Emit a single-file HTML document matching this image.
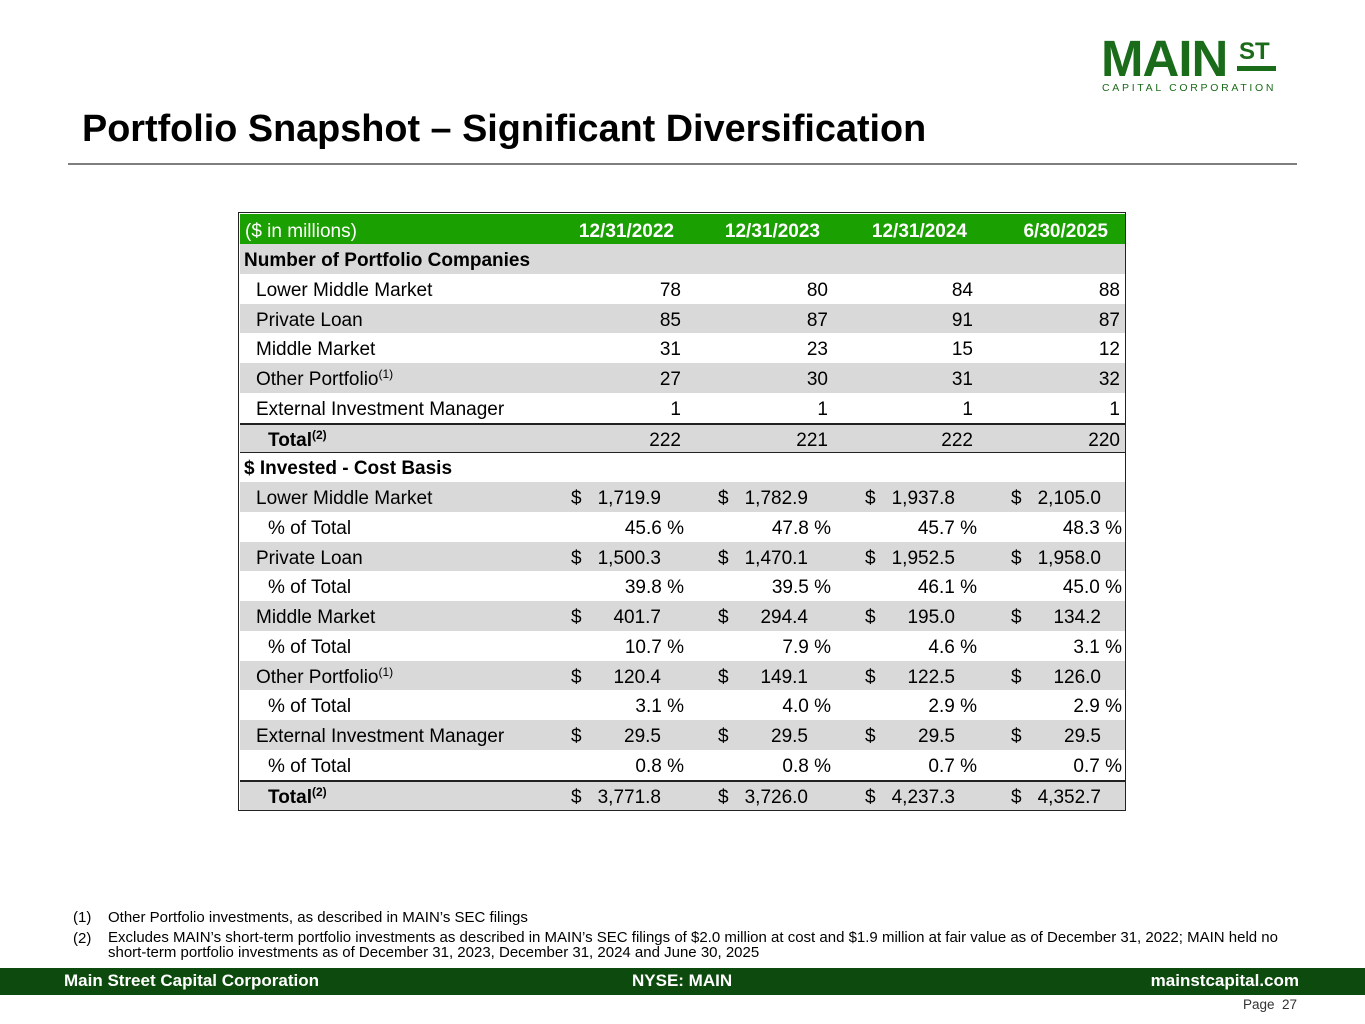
<!DOCTYPE html>
<html><head><meta charset="utf-8"><style>
body{margin:0;width:1365px;height:1024px;position:relative;background:#fff;font-family:"Liberation Sans",Arial,sans-serif;color:#000;overflow:hidden}
.a{position:absolute;white-space:nowrap}
.r{position:absolute;left:240px;width:885px;height:29.75px;font-size:19px;line-height:29.75px}
.g{background:#d9d9d9}
.r span{position:absolute;top:2px}
.lb{left:16px}
.sb{left:4px;font-weight:bold}
.tb{left:28px;font-weight:bold}
.pc{left:28px}
sup{font-size:12px;line-height:0;vertical-align:7px}
</style></head><body>
<div class="a" style="left:1101px;top:33px;font-size:51px;font-weight:bold;color:#1a6b1a;line-height:52px;letter-spacing:-1px">MAIN</div>
<div class="a" style="left:1239px;top:40px;font-size:24px;font-weight:bold;color:#1a6b1a;line-height:24px">ST</div>
<div class="a" style="left:1237px;top:66px;width:39px;height:5px;background:#1a6b1a"></div>
<div class="a" style="left:1102px;top:82px;font-size:10.5px;color:#1a6b1a;letter-spacing:2.7px">CAPITAL CORPORATION</div>
<div class="a" style="left:82px;top:108px;font-size:37.8px;font-weight:bold;line-height:42px">Portfolio Snapshot – Significant Diversification</div>
<div class="a" style="left:68px;top:163px;width:1229px;height:2px;background:#7f7f7f"></div>

<div class="a" style="left:238px;top:212px;width:888px;height:599px;border:1px solid #222;box-sizing:border-box"></div>
<div class="r" style="top:214px;background:#1aa000;color:#fff;height:30px;line-height:31px"><span style="left:5px">($ in millions)</span>
<span style="right:451px;font-weight:bold">12/31/2022</span><span style="right:305px;font-weight:bold">12/31/2023</span><span style="right:158px;font-weight:bold">12/31/2024</span><span style="right:17px;font-weight:bold">6/30/2025</span></div>

<div class="r g" style="top:244px"><span class="sb">Number of Portfolio Companies</span></div>
<div class="r" style="top:273.75px"><span class="lb">Lower Middle Market</span><span style="right:444px">78</span><span style="right:297px">80</span><span style="right:152px">84</span><span style="right:5px">88</span></div>
<div class="r g" style="top:303.5px"><span class="lb">Private Loan</span><span style="right:444px">85</span><span style="right:297px">87</span><span style="right:152px">91</span><span style="right:5px">87</span></div>
<div class="r" style="top:333.25px"><span class="lb">Middle Market</span><span style="right:444px">31</span><span style="right:297px">23</span><span style="right:152px">15</span><span style="right:5px">12</span></div>
<div class="r g" style="top:363px"><span class="lb">Other Portfolio<sup>(1)</sup></span><span style="right:444px">27</span><span style="right:297px">30</span><span style="right:152px">31</span><span style="right:5px">32</span></div>
<div class="r" style="top:392.75px"><span class="lb">External Investment Manager</span><span style="right:444px">1</span><span style="right:297px">1</span><span style="right:152px">1</span><span style="right:5px">1</span></div>
<div class="r g" style="top:422.5px;border-top:2px solid #222;box-sizing:border-box;line-height:28px"><span class="tb">Total<sup>(2)</sup></span><span style="right:444px">222</span><span style="right:297px">221</span><span style="right:152px">222</span><span style="right:5px">220</span></div>
<div class="r" style="top:452.25px;border-top:1px solid #222;box-sizing:border-box;line-height:28px"><span class="sb">$ Invested - Cost Basis</span></div>

<div class="r g" style="top:482px"><span class="lb">Lower Middle Market</span><span style="left:331px">$</span><span style="right:464px">1,719.9</span><span style="left:478px">$</span><span style="right:317px">1,782.9</span><span style="left:625px">$</span><span style="right:170px">1,937.8</span><span style="left:771px">$</span><span style="right:24px">2,105.0</span></div>
<div class="r" style="top:511.75px"><span class="pc">% of Total</span><span style="right:441px">45.6 %</span><span style="right:294px">47.8 %</span><span style="right:148px">45.7 %</span><span style="right:3px">48.3 %</span></div>
<div class="r g" style="top:541.5px"><span class="lb">Private Loan</span><span style="left:331px">$</span><span style="right:464px">1,500.3</span><span style="left:478px">$</span><span style="right:317px">1,470.1</span><span style="left:625px">$</span><span style="right:170px">1,952.5</span><span style="left:771px">$</span><span style="right:24px">1,958.0</span></div>
<div class="r" style="top:571.25px"><span class="pc">% of Total</span><span style="right:441px">39.8 %</span><span style="right:294px">39.5 %</span><span style="right:148px">46.1 %</span><span style="right:3px">45.0 %</span></div>
<div class="r g" style="top:601px"><span class="lb">Middle Market</span><span style="left:331px">$</span><span style="right:464px">401.7</span><span style="left:478px">$</span><span style="right:317px">294.4</span><span style="left:625px">$</span><span style="right:170px">195.0</span><span style="left:771px">$</span><span style="right:24px">134.2</span></div>
<div class="r" style="top:630.75px"><span class="pc">% of Total</span><span style="right:441px">10.7 %</span><span style="right:294px">7.9 %</span><span style="right:148px">4.6 %</span><span style="right:3px">3.1 %</span></div>
<div class="r g" style="top:660.5px"><span class="lb">Other Portfolio<sup>(1)</sup></span><span style="left:331px">$</span><span style="right:464px">120.4</span><span style="left:478px">$</span><span style="right:317px">149.1</span><span style="left:625px">$</span><span style="right:170px">122.5</span><span style="left:771px">$</span><span style="right:24px">126.0</span></div>
<div class="r" style="top:690.25px"><span class="pc">% of Total</span><span style="right:441px">3.1 %</span><span style="right:294px">4.0 %</span><span style="right:148px">2.9 %</span><span style="right:3px">2.9 %</span></div>
<div class="r g" style="top:720px"><span class="lb">External Investment Manager</span><span style="left:331px">$</span><span style="right:464px">29.5</span><span style="left:478px">$</span><span style="right:317px">29.5</span><span style="left:625px">$</span><span style="right:170px">29.5</span><span style="left:771px">$</span><span style="right:24px">29.5</span></div>
<div class="r" style="top:749.75px"><span class="pc">% of Total</span><span style="right:441px">0.8 %</span><span style="right:294px">0.8 %</span><span style="right:148px">0.7 %</span><span style="right:3px">0.7 %</span></div>
<div class="r g" style="top:779.5px;border-top:2px solid #222;box-sizing:border-box;line-height:28px;height:30px"><span class="tb">Total<sup>(2)</sup></span><span style="left:331px">$</span><span style="right:464px">3,771.8</span><span style="left:478px">$</span><span style="right:317px">3,726.0</span><span style="left:625px">$</span><span style="right:170px">4,237.3</span><span style="left:771px">$</span><span style="right:24px">4,352.7</span></div>

<div class="a" style="left:73px;top:909px;font-size:15px">(1)</div>
<div class="a" style="left:108px;top:909px;font-size:15px">Other Portfolio investments, as described in MAIN’s SEC filings</div>
<div class="a" style="left:73px;top:930px;font-size:15px">(2)</div>
<div class="a" style="left:108px;top:930px;font-size:15px;line-height:15px">Excludes MAIN’s short-term portfolio investments as described in MAIN’s SEC filings of $2.0 million at cost and $1.9 million at fair value as of December 31, 2022; MAIN held no<br>short-term portfolio investments as of December 31, 2023, December 31, 2024 and June 30, 2025</div>

<div class="a" style="left:0;top:968px;width:1365px;height:27px;background:#0d4a0d"></div>
<div class="a" style="left:64px;top:971px;font-size:17px;font-weight:bold;color:#fff">Main Street Capital Corporation</div>
<div class="a" style="left:632px;top:971px;font-size:17px;font-weight:bold;color:#fff">NYSE: MAIN</div>
<div class="a" style="right:66px;top:971px;font-size:17px;font-weight:bold;color:#fff">mainstcapital.com</div>
<div class="a" style="right:68px;top:997px;font-size:13.5px;color:#333">Page&nbsp; 27</div>
</body></html>
